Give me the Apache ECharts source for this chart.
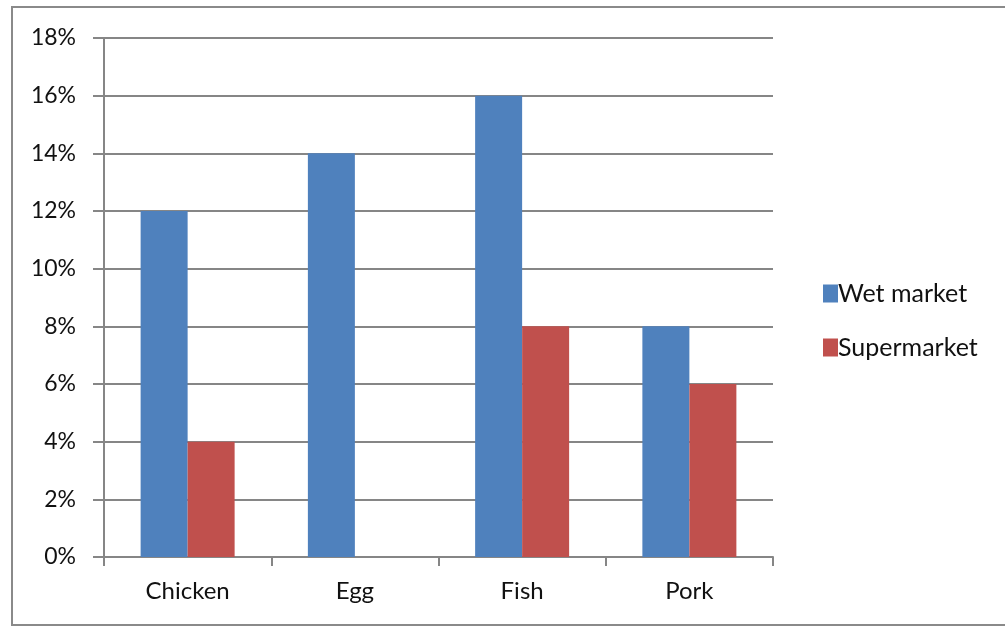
<!DOCTYPE html>
<html>
<head>
<meta charset="utf-8">
<script src="https://cdn.jsdelivr.net/npm/echarts@6/dist/echarts.min.js"></script>
<style>
  html, body { margin: 0; padding: 0; background: #fff; }
  #chart { width: 1005px; height: 628px; }
</style>
</head>
<body>
<div id="chart"></div>
<script>
// Share of samples per product, by place of purchase (percent)
const categories = ['Chicken', 'Egg', 'Fish', 'Pork'];
const wetMarket = [12, 14, 16, 8];
const supermarket = [4, 0, 8, 6];
const seriesNames = ['Wet market', 'Supermarket'];

const chart = echarts.init(document.getElementById('chart'));
const fontFamily = 'Lato, "Open Sans", sans-serif';

chart.setOption({
  animation: false,
  backgroundColor: '#fff',
  graphic: [{
    type: 'rect',
    shape: { x: 12, y: 7, width: 1005, height: 618 },
    style: { fill: 'none', stroke: '#8a8a8a', lineWidth: 2 },
    silent: true
  }],
  grid: { left: 104, right: 232, top: 38, bottom: 71 },
  legend: {
    orient: 'vertical',
    left: 818,
    top: 276,
    itemWidth: 15,
    itemHeight: 18,
    itemGap: 29,
    icon: 'rect',
    textStyle: { fontFamily, fontSize: 25, color: '#111', padding: [0, 0, 0, -5] },
    data: seriesNames
  },
  xAxis: {
    type: 'category',
    data: categories,
    axisLine: { lineStyle: { color: '#868686', width: 2 } },
    axisTick: { show: true, length: 9, lineStyle: { color: '#868686', width: 2 } },
    axisLabel: { fontFamily, fontSize: 24, color: '#111', margin: 22 }
  },
  yAxis: {
    type: 'value',
    min: 0, max: 18, interval: 2,
    axisLine: { show: true, lineStyle: { color: '#868686', width: 2 } },
    axisTick: { show: true, length: 11, lineStyle: { color: '#868686', width: 2 } },
    axisLabel: { fontFamily, fontSize: 23, color: '#111', margin: 28, formatter: '{value}%' },
    splitLine: { lineStyle: { color: '#868686', width: 2 } }
  },
  series: [
    {
      name: seriesNames[0], type: 'bar', data: wetMarket,
      barWidth: 47, barGap: '0%',
      itemStyle: { color: '#4F81BD' }
    },
    {
      name: seriesNames[1], type: 'bar', data: supermarket,
      barWidth: 47, barGap: '0%',
      itemStyle: { color: '#C0504D' }
    }
  ]
});
</script>
</body>
</html>
